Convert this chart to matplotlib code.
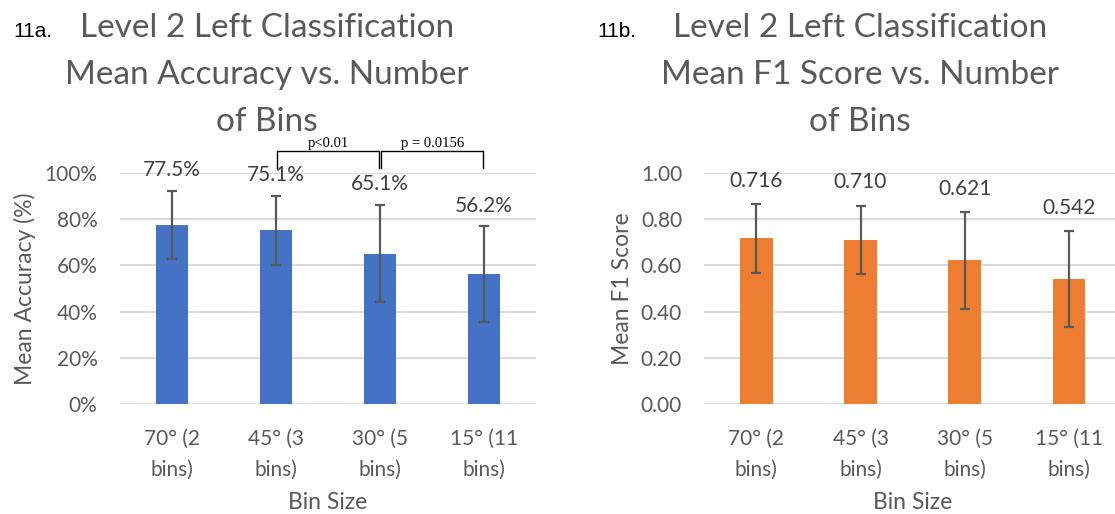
import matplotlib
matplotlib.use("Agg")
import matplotlib.pyplot as plt
import numpy as np

# data
bins = ["70° (2\nbins)", "45° (3\nbins)", "30° (5\nbins)", "15° (11\nbins)"]
acc_mean = [0.775, 0.751, 0.651, 0.562]
acc_err = [0.147, 0.150, 0.210, 0.206]
f1_mean = [0.716, 0.710, 0.621, 0.542]
f1_err = [0.148, 0.148, 0.210, 0.207]
acc_ticks = [0, 0.2, 0.4, 0.6, 0.8, 1.0]
f1_ticks = [0, 0.2, 0.4, 0.6, 0.8, 1.0]
sig_pairs = [(1, 2, "p<0.01"), (2, 3, "p = 0.0156")]
title_a = ["Level 2 Left Classification", "Mean Accuracy vs. Number", "of Bins"]
title_b = ["Level 2 Left Classification", "Mean F1 Score vs. Number", "of Bins"]

plt.rcParams['font.family'] = ['Lato', 'DejaVu Sans']
GRAY = "#595959"
GRID = "#d9d9d9"

fig = plt.figure(figsize=(11.15, 5.14), dpi=100)
ax1 = fig.add_axes([0.1074, 0.2134, 0.3735, 0.4506])
ax2 = fig.add_axes([0.6317, 0.2134, 0.3735, 0.4506])


def draw_panel(ax, means, errs, ticks, color, fmt, ylabel, tickfmt, off):
    x = np.arange(len(means))
    ax.bar(x, means, width=0.31, color=color, zorder=2)
    ax.errorbar(x, means, yerr=errs, fmt="none", ecolor=GRAY, elinewidth=1.6,
                capsize=3.5, capthick=1.6, zorder=3)
    for xi, m, e in zip(x, means, errs):
        ax.text(xi, m + e + off, fmt.format(m), ha="center", va="center",
                fontsize=15, color="#404040", clip_on=False)
    ax.set_xlim(-0.5, len(means) - 0.5)
    ax.set_ylim(0, 1.0)
    ax.set_yticks(ticks)
    ax.set_yticklabels([tickfmt(t) for t in ticks])
    ax.set_xticks(x)
    ax.set_xticklabels(bins, linespacing=1.65)
    ax.tick_params(axis="both", length=0, labelsize=15, labelcolor=GRAY)
    ax.tick_params(axis="y", pad=16)
    ax.tick_params(axis="x", pad=18)
    ax.grid(axis="y", color=GRID, lw=1.5, zorder=0)
    ax.set_axisbelow(True)
    for s in ax.spines.values():
        s.set_visible(False)
    ax.set_xlabel("Bin Size", fontsize=16.5, color=GRAY, labelpad=9)
    ax.set_ylabel(ylabel, fontsize=16.5, color=GRAY, labelpad=6)


draw_panel(ax1, acc_mean, acc_err, acc_ticks, "#4472C4", "{:.1%}",
           "Mean Accuracy (%)", lambda t: f"{t:.0%}", 0.09)
draw_panel(ax2, f1_mean, f1_err, f1_ticks, "#ED7D31", "{:.3f}",
           "Mean F1 Score", lambda t: f"{t:.2f}", 0.10)

# significance brackets
for i, j, txt in sig_pairs:
    x0, x1 = i + 0.01, j - 0.01
    ax1.plot([x0, x0, x1, x1], [1.02, 1.095, 1.095, 1.02], color="black",
             lw=1.0, clip_on=False)
    ax1.text((x0 + x1) / 2, 1.125, txt, ha="center", va="center",
             fontsize=10.5, family="Liberation Serif", clip_on=False)

# titles, one line at a time
for k, line in enumerate(title_a):
    fig.text(0.2395, 0.928 - k * 0.0915, line, ha="center", va="baseline",
             fontsize=24, color=GRAY)
for k, line in enumerate(title_b):
    fig.text(0.771, 0.928 - k * 0.0915, line, ha="center", va="baseline",
             fontsize=24, color=GRAY)
fig.text(0.0117, 0.928, "11a.", fontsize=15, color="black", va="baseline",
         family="Liberation Sans")
fig.text(0.5355, 0.928, "11b.", fontsize=15, color="black", va="baseline",
         family="Liberation Sans")

fig.savefig("out.png", dpi=100)
